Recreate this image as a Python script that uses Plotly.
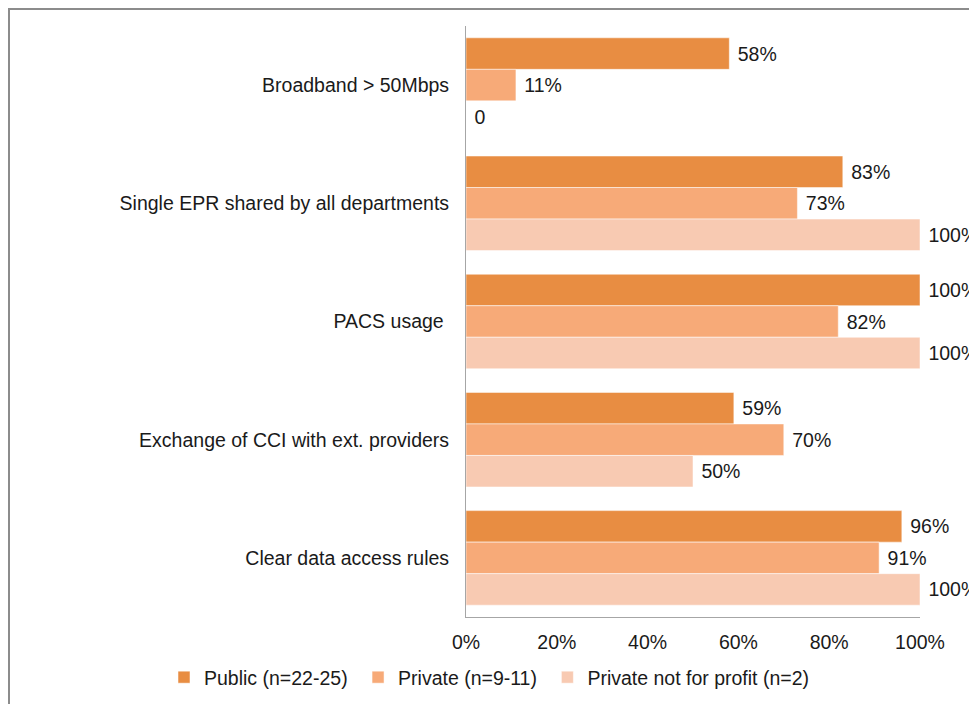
import plotly.graph_objects as go

categories = ["Broadband > 50Mbps", "Single EPR shared by all departments", "PACS usage ",
              "Exchange of CCI with ext. providers", "Clear data access rules"]
series_names = ["Public (n=22-25)\u00a0", "Private (n=9-11)\u00a0", "Private not for profit (n=2)"]
public_vals = [0.58, 0.83, 1.00, 0.59, 0.96]
private_vals = [0.11, 0.73, 0.82, 0.70, 0.91]
npf_vals = [0.0, 1.00, 1.00, 0.50, 1.00]
public_text = ["58%", "83%", "100%", "59%", "96%"]
private_text = ["11%", "73%", "82%", "70%", "91%"]
npf_text = ["0", "100%", "100%", "50%", "100%"]
colors = ["#E88D42", "#F7AA78", "#F8CAB2"]
x_ticks = [0, 0.2, 0.4, 0.6, 0.8, 1.0]
x_tick_labels = ["0%", "20%", "40%", "60%", "80%", "100%"]

FONT = "Liberation Sans, Arial, sans-serif"
FS = 19.5
fig = go.Figure()
for name, vals, txt, col in zip(series_names, [public_vals, private_vals, npf_vals],
                                [public_text, private_text, npf_text], colors):
    fig.add_trace(go.Bar(
        y=categories, x=vals, name=name, orientation="h",
        marker=dict(color=col, line=dict(color="rgba(255,255,255,0.5)", width=1)),
        text=[" " + t for t in txt], textposition="outside", cliponaxis=False,
        textfont=dict(family=FONT, size=FS, color="#1a1a1a"),
        hoverinfo="skip",
    ))

# page offset (body margin) of 8px; target positions given in page pixels
OFF = 8
L, R, T, B = 466 - OFF, 920 - OFF, 26 - OFF, 617 - OFF
W, H = R - L, B - T

def px(x):
    return (x - L) / W

def py(y):
    return (B - y) / H

fig.add_shape(type="rect", xref="paper", yref="paper",
              x0=px(1), x1=px(1200), y0=py(900), y1=py(1),
              line=dict(color="#8C8C8C", width=2), layer="below")

fig.update_layout(
    width=977, height=704,
    margin=dict(l=L, r=977 - R, t=T, b=704 - B, pad=0),
    paper_bgcolor="white", plot_bgcolor="white",
    barmode="group", bargap=0.2, bargroupgap=0,
    font=dict(family=FONT, size=FS, color="#1a1a1a"),
    showlegend=True,
    legend=dict(orientation="h", x=px(156), y=py(669.5), xanchor="left", yanchor="middle",
                font=dict(family=FONT, size=FS, color="#1a1a1a"),
                traceorder="normal", bgcolor="rgba(0,0,0,0)"),
    xaxis=dict(range=[0, 1], tickvals=x_ticks, ticktext=x_tick_labels, showgrid=False,
               zeroline=False, showline=True, linecolor="#A6A6A6", linewidth=1,
               ticks="", ticklabelstandoff=8, fixedrange=True),
    yaxis=dict(autorange="reversed", showgrid=False, zeroline=False, showline=True,
               linecolor="#A6A6A6", linewidth=1, ticks="", ticklabelstandoff=12,
               fixedrange=True),
)

fig.write_html("out.html")
